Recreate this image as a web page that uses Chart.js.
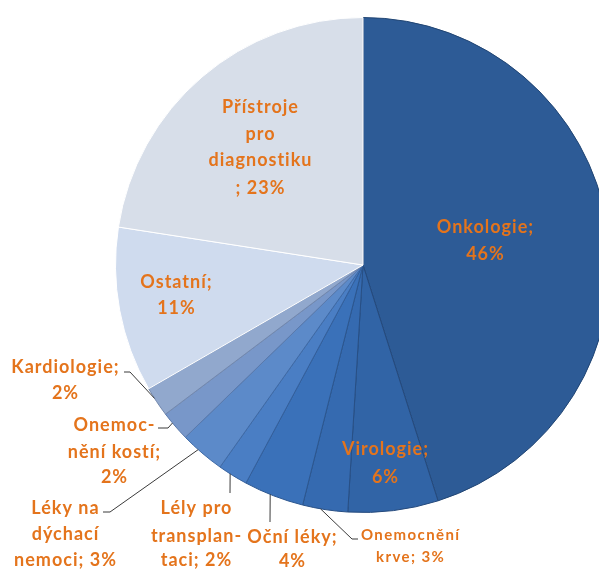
<!DOCTYPE html>
<html>
<head>
<meta charset="utf-8">
<script src="https://cdn.jsdelivr.net/npm/chart.js@4.4.1/dist/chart.umd.min.js"></script>
<style>
  html, body { margin: 0; padding: 0; background: #fff; overflow: hidden; }
  #wrap { position: relative; width: 620px; height: 570px; }
</style>
</head>
<body>
<div id="wrap"><canvas id="pie"></canvas></div>
<script>
// categories and shares (%), clockwise from 12 o'clock
const categories = ['Onkologie', 'Virologie', 'Onemocnění krve', 'Oční léky', 'Lély pro transplantaci',
    'Léky na dýchací nemoci', 'Onemocnění kostí', 'Kardiologie', 'Ostatní', 'Přístroje pro diagnostiku'];
const shares = [46, 6, 3, 4, 2, 3, 2, 2, 11, 23];
// wrapped label text, {v} gets the share
const labelLines = [
    ['Onkologie;', '{v}%'],
    ['Virologie;', '{v}%'],
    ['Onemocnění', 'krve; {v}%'],
    ['Oční léky;', '{v}%'],
    ['Lély pro', 'transplan-', 'taci; {v}%'],
    ['Léky na', 'dýchací', 'nemoci; {v}%'],
    ['Onemoc-', 'nění kostí;', '{v}%'],
    ['Kardiologie;', '{v}%'],
    ['Ostatní;', '{v}%'],
    ['Přístroje', 'pro', 'diagnostiku', '; {v}%']
];

const sliceColors = ['#2d5b96', '#3164a6', '#356ab0', '#3a71b9', '#4a7ec4', '#5c8ac9',
    '#7897c9', '#91a8cd', '#cfdbee', '#d7dee9'];
const sliceBorders = ['#214573', '#24497c', '#274f85', '#2b568f', '#335f9c', '#3f6aa6',
    '#5a79ab', '#7388ad', '#ffffff', '#ffffff'];

// label placement: text centre x, centre y of each line, leader path
const labelLayout = [
    { x: 485, y: [227, 254] },
    { x: 385, y: [449, 477] },
    { x: 410, y: [535, 557], size: 15, spacing: 1.4, frac: 0.6, path: [[352, 539], [358, 539]] },
    { x: 292, y: [537, 561], frac: 0.56, path: [[270, 522]] },
    { x: 196, y: [508, 536, 560], frac: 0.6, path: [[230, 493]] },
    { x: 65, y: [508, 534, 560], frac: 0.61, path: [[110, 512], [103, 512]] },
    { x: 114, y: [425, 452, 477], frac: 0.63, path: [[168, 428], [158, 428]] },
    { x: 65, y: [367, 393], frac: 0.63, path: [[130, 372], [124, 372]] },
    { x: 176, y: [282, 308] },
    { x: 260, y: [107, 134, 160, 188] }
];

const pieLabels = {
    id: 'pieLabels',
    afterDatasetsDraw(chart) {
        const ctx = chart.ctx;
        const arcs = chart.getDatasetMeta(0).data;
        ctx.save();
        arcs.forEach((arc, i) => {
            const lay = labelLayout[i];
            if (lay.path) {
                const a = arc.startAngle + (arc.endAngle - arc.startAngle) * lay.frac;
                ctx.beginPath();
                ctx.moveTo(arc.x + arc.outerRadius * Math.cos(a), arc.y + arc.outerRadius * Math.sin(a));
                lay.path.forEach(p => ctx.lineTo(p[0], p[1]));
                ctx.strokeStyle = '#3a3a3a';
                ctx.lineWidth = 1;
                ctx.stroke();
            }
            const sp = lay.spacing !== undefined ? lay.spacing : 1;
            ctx.font = 'bold ' + (lay.size || 18) + 'px Lato, "Open Sans", sans-serif';
            ctx.letterSpacing = sp + 'px';
            ctx.fillStyle = '#e4741c';
            ctx.textAlign = 'center';
            ctx.textBaseline = 'middle';
            labelLines[i].forEach((t, k) => {
                // trailing letter spacing is half-compensated to keep lines centred
                ctx.fillText(t.replace('{v}', shares[i]), lay.x + sp / 2, lay.y[k]);
            });
        });
        ctx.restore();
    }
};

new Chart(document.getElementById('pie'), {
    type: 'pie',
    data: {
        labels: categories,
        datasets: [{
            data: shares,
            backgroundColor: sliceColors,
            borderColor: sliceBorders,
            borderWidth: 1
        }]
    },
    options: {
        responsive: true,
        maintainAspectRatio: false,
        animation: false,
        rotation: 0,
        layout: { padding: { left: 115, top: 17, right: 9, bottom: 57 } },
        plugins: {
            legend: { display: false },
            tooltip: { enabled: false }
        }
    },
    plugins: [pieLabels]
});
</script>
</body>
</html>
